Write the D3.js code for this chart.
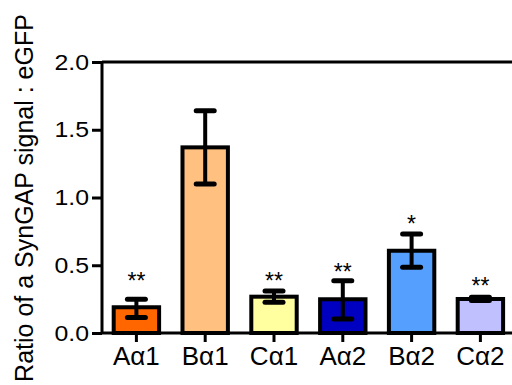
<!DOCTYPE html>
<html>
  <head>
    <meta charset="utf-8">
    <title>SynGAP ratio</title>
    <script src="https://d3js.org/d3.v7.min.js"></script>
    <style>
      body { margin: 0; background: #fff; }
      text { font-family: "Liberation Sans", Arial, sans-serif; fill: #000; }
    </style>
  </head>
  <body>
    <div id="chart"></div>
    <script>
      // data
      const categories = ["Aα1", "Bα1", "Cα1", "Aα2", "Bα2", "Cα2"];
      const means = [0.19, 1.37, 0.268, 0.249, 0.607, 0.251];
      const errLow = [0.115, 1.10, 0.227, 0.103, 0.485, 0.24];
      const errHigh = [0.25, 1.64, 0.31, 0.386, 0.73, 0.263];
      const colors = ["#ff6600", "#ffc080", "#ffffa0", "#0000c0", "#55a0ff", "#c0c0ff"];
      const stars = ["**", "", "**", "**", "*", "**"];
      const starAt = [0.415, null, 0.415, 0.48, 0.834, 0.379];
      const yTicks = [0, 0.5, 1, 1.5, 2];

      const width = 512, height = 385;
      const x0 = 102, yBase = 333, yTop = 62;

      const svg = d3.select("#chart").append("svg")
        .attr("width", width)
        .attr("height", height);

      const x = d3.scaleBand()
        .domain(categories)
        .range([x0, x0 + 6 * 68.8])
        .paddingInner(0.34)
        .paddingOuter(0.17);

      const y = d3.scaleLinear()
        .domain([0, 2])
        .range([yBase, yTop]);

      // top frame line
      svg.append("line")
        .attr("x1", x0).attr("x2", width + 10)
        .attr("y1", y(2)).attr("y2", y(2))
        .attr("stroke", "#000").attr("stroke-width", 3);

      // bars
      svg.selectAll(".bar")
        .data(categories)
        .enter().append("rect")
          .attr("class", "bar")
          .attr("x", d => x(d))
          .attr("y", (d, i) => y(means[i]))
          .attr("width", x.bandwidth())
          .attr("height", (d, i) => yBase - y(means[i]))
          .attr("fill", (d, i) => colors[i])
          .attr("stroke", "#000")
          .attr("stroke-width", 4);

      // error bars
      const err = svg.selectAll(".err")
        .data(categories)
        .enter().append("g")
          .attr("class", "err")
          .attr("transform", d => "translate(" + (x(d) + x.bandwidth() / 2) + ",0)");
      err.append("line")
        .attr("y1", (d, i) => y(errLow[i]))
        .attr("y2", (d, i) => y(errHigh[i]))
        .attr("stroke", "#000").attr("stroke-width", 4);
      [errLow, errHigh].forEach(arr => {
        err.append("line")
          .attr("x1", -9).attr("x2", 9)
          .attr("y1", (d, i) => y(arr[i]))
          .attr("y2", (d, i) => y(arr[i]))
          .attr("stroke", "#000").attr("stroke-width", 5)
          .attr("stroke-linecap", "round");
      });

      // significance stars
      svg.selectAll(".star")
        .data(categories)
        .enter().append("text")
          .attr("class", "star")
          .attr("x", d => x(d) + x.bandwidth() / 2)
          .attr("y", (d, i) => starAt[i] == null ? 0 : y(starAt[i]) + 12)
          .attr("text-anchor", "middle")
          .style("font-size", "23px")
          .text((d, i) => stars[i]);

      // y axis (labels a bit wide, like the original)
      const sx = 1.13;
      const yAxis = svg.append("g")
        .attr("transform", "translate(" + x0 + ",0)")
        .call(d3.axisLeft(y).tickValues(yTicks).tickFormat(d3.format(".1f")).tickSize(10).tickPadding(3));
      yAxis.select(".domain").attr("stroke-width", 3).attr("d", "M0," + yBase + "V" + yTop);
      yAxis.selectAll(".tick line").attr("stroke-width", 3);
      yAxis.selectAll(".tick text")
        .attr("x", -13 / sx)
        .attr("transform", "scale(" + sx + ",1)")
        .style("font-size", "22px")
        .style("font-family", "Liberation Sans, Arial, sans-serif");

      // x axis
      const xAxis = svg.append("g")
        .attr("transform", "translate(0," + yBase + ")")
        .call(d3.axisBottom(x).tickSize(9).tickPadding(5));
      xAxis.select(".domain").attr("stroke-width", 3).attr("d", "M" + x0 + ",0H" + (width + 10));
      xAxis.selectAll(".tick line").attr("stroke-width", 3);
      xAxis.selectAll(".tick text").style("font-size", "26px").style("font-family", "Liberation Sans, Arial, sans-serif");

      // y axis title
      svg.append("text")
        .attr("transform", "translate(33,198) rotate(-90)")
        .attr("text-anchor", "middle")
        .style("font-size", "25px")
        .text("Ratio of a SynGAP signal : eGFP");
    </script>
  </body>
</html>
